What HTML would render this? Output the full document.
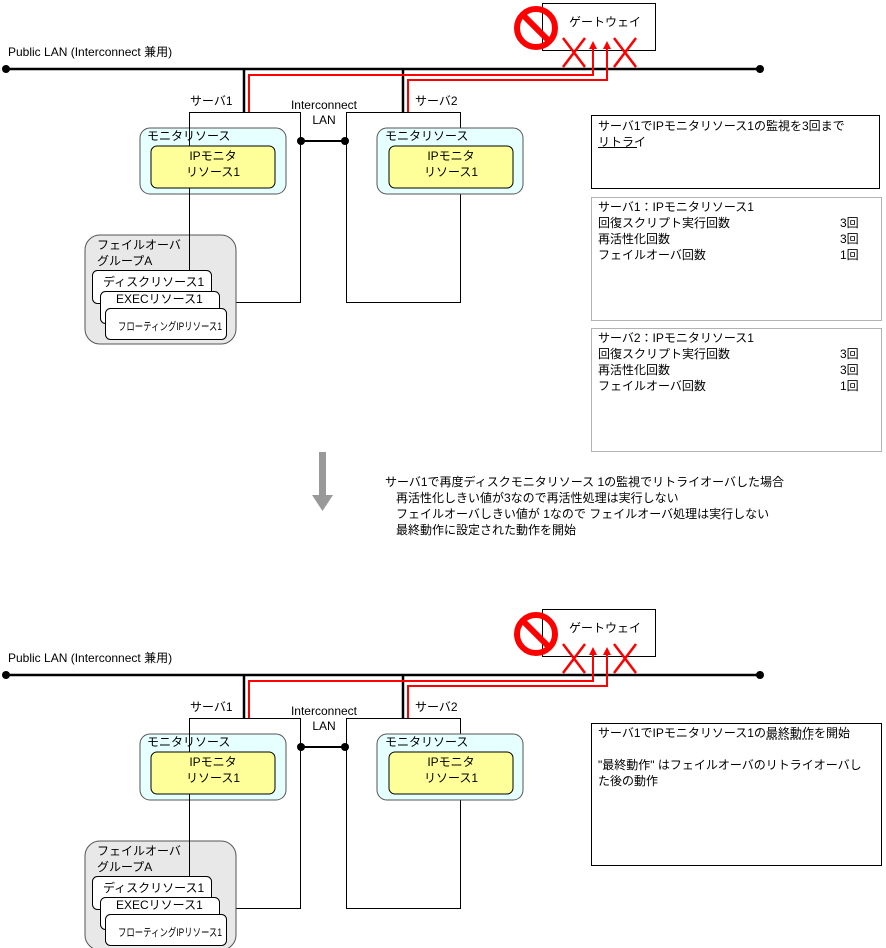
<!DOCTYPE html>
<html><head><meta charset="utf-8"><style>
html,body{margin:0;padding:0;background:#fff;}
svg{display:block;font-family:"Liberation Sans","Noto Sans CJK JP",sans-serif;}
text{font-size:12px;fill:#000;}
</style></head><body>
<svg width="886" height="948" viewBox="0 0 886 948" xmlns="http://www.w3.org/2000/svg">
<defs>
<g id="dia">
  <!-- public LAN -->
  <text x="8" y="56">Public LAN (Interconnect 兼用)</text>
  <line x1="6" y1="69" x2="760" y2="69" stroke="#000" stroke-width="2.5"/>
  <circle cx="6" cy="69" r="4"/><circle cx="760" cy="69" r="4"/>
  <!-- gateway -->
  <rect x="542.5" y="3.5" width="113" height="47" fill="#fff" stroke="#000"/>
  <text x="569" y="26">ゲートウェイ</text>
  <circle cx="536" cy="28" r="19" fill="none" stroke="#f00" stroke-width="6"/>
  <line x1="523" y1="15" x2="549" y2="41" stroke="#f00" stroke-width="6"/>
  <!-- red X -->
  <g stroke="#f00" stroke-width="2.5">
    <line x1="563" y1="38" x2="585" y2="67"/><line x1="585" y1="38" x2="563" y2="67"/>
    <line x1="614" y1="38" x2="636" y2="67"/><line x1="636" y1="38" x2="614" y2="67"/>
  </g>
  <!-- server uplinks -->
  <line x1="244" y1="69" x2="244" y2="112" stroke="#000" stroke-width="2.5"/>
  <line x1="403" y1="69" x2="403" y2="112" stroke="#000" stroke-width="2.5"/>
  <polyline points="249,112 249,75 593,75 593,48" fill="none" stroke="#f00" stroke-width="2"/>
  <polyline points="408,112 408,80 607,80 607,48" fill="none" stroke="#f00" stroke-width="2"/>
  <polygon points="589,49 597,49 593,41" fill="#f00"/>
  <polygon points="603,49 611,49 607,41" fill="#f00"/>
  <!-- servers -->
  <text x="190" y="105">サーバ1</text>
  <text x="415" y="105">サーバ2</text>
  <rect x="189.5" y="112.5" width="111" height="190" fill="#fff" stroke="#000"/>
  <rect x="346.5" y="112.5" width="114" height="190" fill="#fff" stroke="#000"/>
  <!-- interconnect -->
  <text x="324" y="109" text-anchor="middle">Interconnect</text>
  <text x="324" y="124" text-anchor="middle">LAN</text>
  <line x1="301" y1="141" x2="345" y2="141" stroke="#000" stroke-width="2"/>
  <circle cx="301" cy="141" r="4"/><circle cx="345" cy="141" r="4"/>
  <!-- monitor boxes -->
  <rect x="140" y="128" width="146" height="66" rx="10" fill="#e6ffff" stroke="#555"/>
  <rect x="377" y="128" width="146" height="66" rx="10" fill="#e6ffff" stroke="#555"/>
  <line x1="189.5" y1="112" x2="189.5" y2="270" stroke="#000"/>
  <text x="147" y="140">モニタリソース</text>
  <text x="385" y="140">モニタリソース</text>
  <rect x="151" y="146" width="124" height="42" rx="6" fill="#ffff99" stroke="#000"/>
  <rect x="389" y="146" width="124" height="42" rx="6" fill="#ffff99" stroke="#000"/>
  <text x="213" y="160" text-anchor="middle">IPモニタ</text>
  <text x="213" y="176" text-anchor="middle">リソース1</text>
  <text x="451" y="160" text-anchor="middle">IPモニタ</text>
  <text x="451" y="176" text-anchor="middle">リソース1</text>
  <!-- failover group -->
  <rect x="85" y="235" width="151" height="109" rx="15" fill="#e8e8e8" stroke="#555"/>
  <line x1="189.5" y1="194" x2="189.5" y2="270" stroke="#000"/>
  <text x="97" y="249">フェイルオーバ</text>
  <text x="97" y="265">グループA</text>
  <rect x="92.5" y="270.5" width="119" height="33" rx="5" fill="#fff" stroke="#000"/>
  <text x="103" y="286">ディスクリソース1</text>
  <rect x="100.5" y="291.5" width="119" height="32" rx="5" fill="#fff" stroke="#000"/>
  <text x="116" y="303">EXECリソース1</text>
  <rect x="105.5" y="308.5" width="121" height="31" rx="5" fill="#fff" stroke="#000"/>
  <text x="118" y="330" style="font-size:11px" textLength="104" lengthAdjust="spacingAndGlyphs">フローティングIPリソース1</text>
</g>
</defs>
<use href="#dia"/>
<use href="#dia" y="606"/>
<!-- right boxes top -->
<rect x="591.5" y="115.5" width="288" height="73" fill="#fff" stroke="#000"/>
<text x="598" y="130">サーバ1でIPモニタリソース1の監視を3回まで</text>
<text x="598" y="146">リトライ</text>
<line x1="598" y1="147.5" x2="637" y2="147.5" stroke="#000"/>
<rect x="591.5" y="197.5" width="290" height="123" fill="none" stroke="#666" stroke-dasharray="1,1"/>
<text x="598" y="211">サーバ1：IPモニタリソース1</text>
<text x="598" y="227">回復スクリプト実行回数</text><text x="840" y="227">3回</text>
<text x="598" y="243">再活性化回数</text><text x="840" y="243">3回</text>
<text x="598" y="259">フェイルオーバ回数</text><text x="840" y="259">1回</text>
<rect x="591.5" y="328.5" width="290" height="123" fill="none" stroke="#666" stroke-dasharray="1,1"/>
<text x="598" y="342">サーバ2：IPモニタリソース1</text>
<text x="598" y="358">回復スクリプト実行回数</text><text x="840" y="358">3回</text>
<text x="598" y="374">再活性化回数</text><text x="840" y="374">3回</text>
<text x="598" y="390">フェイルオーバ回数</text><text x="840" y="390">1回</text>
<!-- arrow -->
<rect x="319" y="452" width="7" height="44" fill="#999"/>
<polygon points="312,495 333,495 322.5,511" fill="#999"/>
<text x="385" y="486">サーバ1で再度ディスクモニタリソース 1の監視でリトライオーバした場合</text>
<text x="396" y="502">再活性化しきい値が3なので再活性処理は実行しない</text>
<text x="396" y="518">フェイルオーバしきい値が 1なので  フェイルオーバ処理は実行しない</text>
<text x="396" y="534">最終動作に設定された動作を開始</text>
<!-- bottom box -->
<rect x="591.5" y="723.5" width="290" height="142" fill="#fff" stroke="#000"/>
<text x="598" y="737">サーバ1でIPモニタリソース1の最終動作を開始</text>
<line x1="766" y1="739" x2="814" y2="739" stroke="#000" stroke-dasharray="2,1"/>
<text x="598" y="769">"最終動作" はフェイルオーバのリトライオーバし</text>
<text x="598" y="785">た後の動作</text>
</svg>
</body></html>
